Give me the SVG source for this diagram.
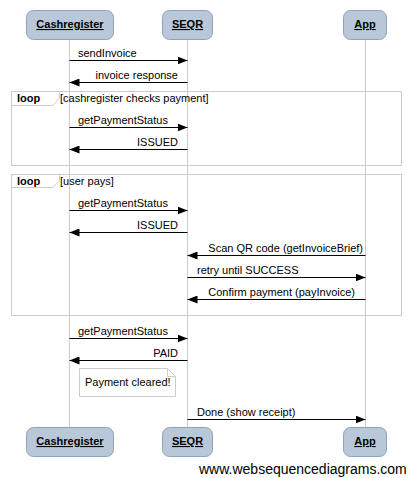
<svg xmlns="http://www.w3.org/2000/svg" width="411" height="478" viewBox="0 0 411 478">
<style>
.actor rect{fill:#b8c8d8;stroke:#8fa3b8;stroke-width:1}
.actor text{font-family:"Liberation Sans",Arial,sans-serif;font-size:11px;font-weight:bold;text-anchor:middle;text-decoration:underline;fill:#000}
.life{stroke:#cccccc;stroke-width:1}
.msg{stroke:#000;stroke-width:1;fill:none}
.lbl{font-family:"Liberation Sans",Arial,sans-serif;font-size:11px;fill:#000}
.end{text-anchor:end}
.frame{fill:none;stroke:#cccccc;stroke-width:1}
.kw{font-family:"Liberation Sans",Arial,sans-serif;font-size:11px;font-weight:bold;fill:#000}
</style>
<defs>
<marker id="ah" viewBox="0 0 10 8" refX="10" refY="4" markerWidth="10" markerHeight="8" markerUnits="userSpaceOnUse" orient="auto">
<path d="M0,0 L10,4 L0,8 Z" fill="#000"/>
</marker>
</defs>
<rect width="411" height="478" fill="#fff"/>
<g id="lifelines">
<line class="life" x1="69.5" y1="39" x2="69.5" y2="428"/>
<line class="life" x1="187.5" y1="39" x2="187.5" y2="428"/>
<line class="life" x1="365.5" y1="39" x2="365.5" y2="428"/>
</g>
<g id="loop1">
<rect class="frame" x="11.5" y="91.5" width="390" height="74"/>
<path class="frame" d="M11.5,105.5 H53 L59.5,98 V91.5"/>
<text class="kw" x="17" y="102">loop</text>
<text class="lbl" x="60" y="102">[cashregister checks payment]</text>
</g>
<g id="loop2">
<rect class="frame" x="11.5" y="174.5" width="390" height="141"/>
<path class="frame" d="M11.5,187.5 H53 L59.5,180.5 V174.5"/>
<text class="kw" x="17" y="185">loop</text>
<text class="lbl" x="60" y="185">[user pays]</text>
</g>
<g id="connectors">
<line class="msg" x1="69.5" y1="60.5" x2="187.5" y2="60.5" marker-end="url(#ah)"/>
<text class="lbl" x="78" y="57">sendInvoice</text>
<line class="msg" x1="187.5" y1="82.5" x2="69.5" y2="82.5" marker-end="url(#ah)"/>
<text class="lbl end" x="178" y="79">invoice response</text>
<line class="msg" x1="69.5" y1="127.5" x2="187.5" y2="127.5" marker-end="url(#ah)"/>
<text class="lbl" x="78" y="124">getPaymentStatus</text>
<line class="msg" x1="187.5" y1="149.5" x2="69.5" y2="149.5" marker-end="url(#ah)"/>
<text class="lbl end" x="178" y="146">ISSUED</text>
<line class="msg" x1="69.5" y1="210.5" x2="187.5" y2="210.5" marker-end="url(#ah)"/>
<text class="lbl" x="78" y="207">getPaymentStatus</text>
<line class="msg" x1="187.5" y1="232.5" x2="69.5" y2="232.5" marker-end="url(#ah)"/>
<text class="lbl end" x="178" y="229">ISSUED</text>
<line class="msg" x1="365.5" y1="255.5" x2="187.5" y2="255.5" marker-end="url(#ah)"/>
<text class="lbl end" x="363" y="252">Scan QR code (getInvoiceBrief)</text>
<line class="msg" x1="187.5" y1="277.5" x2="365.5" y2="277.5" marker-end="url(#ah)"/>
<text class="lbl" x="197" y="274">retry until SUCCESS</text>
<line class="msg" x1="365.5" y1="299.5" x2="187.5" y2="299.5" marker-end="url(#ah)"/>
<text class="lbl end" x="355" y="296">Confirm payment (payInvoice)</text>
<line class="msg" x1="69.5" y1="338.5" x2="187.5" y2="338.5" marker-end="url(#ah)"/>
<text class="lbl" x="78" y="335">getPaymentStatus</text>
<line class="msg" x1="187.5" y1="360.5" x2="69.5" y2="360.5" marker-end="url(#ah)"/>
<text class="lbl end" x="178" y="357">PAID</text>
<line class="msg" x1="187.5" y1="419.5" x2="365.5" y2="419.5" marker-end="url(#ah)"/>
<text class="lbl" x="197" y="416">Done (show receipt)</text>
</g>
<g id="note">
<path d="M79.5,368.5 H167.5 L175.5,376.5 V396.5 H79.5 Z" fill="#fff" stroke="#cccccc"/>
<path d="M167.5,368.5 V376.5 H175.5" fill="none" stroke="#cccccc"/>
<text class="lbl" x="85" y="386">Payment cleared!</text>
</g>
<g id="cashregister-top" class="actor"><rect x="26.5" y="10.5" width="87" height="29" rx="7"/><text x="70" y="28">Cashregister</text></g>
<g id="seqr-top" class="actor"><rect x="162.5" y="10.5" width="50" height="29" rx="7"/><text x="187.5" y="28">SEQR</text></g>
<g id="app-top" class="actor"><rect x="343.5" y="10.5" width="43" height="29" rx="7"/><text x="365" y="28">App</text></g>
<g id="cashregister-bottom" class="actor"><rect x="26.5" y="427.5" width="87" height="29" rx="7"/><text x="70" y="445">Cashregister</text></g>
<g id="seqr-bottom" class="actor"><rect x="162.5" y="427.5" width="50" height="29" rx="7"/><text x="187.5" y="445">SEQR</text></g>
<g id="app-bottom" class="actor"><rect x="343.5" y="427.5" width="43" height="29" rx="7"/><text x="365" y="445">App</text></g>
<text x="199" y="474" font-family="'Liberation Sans',Arial,sans-serif" font-size="14" fill="#000">www.websequencediagrams.com</text>
</svg>
